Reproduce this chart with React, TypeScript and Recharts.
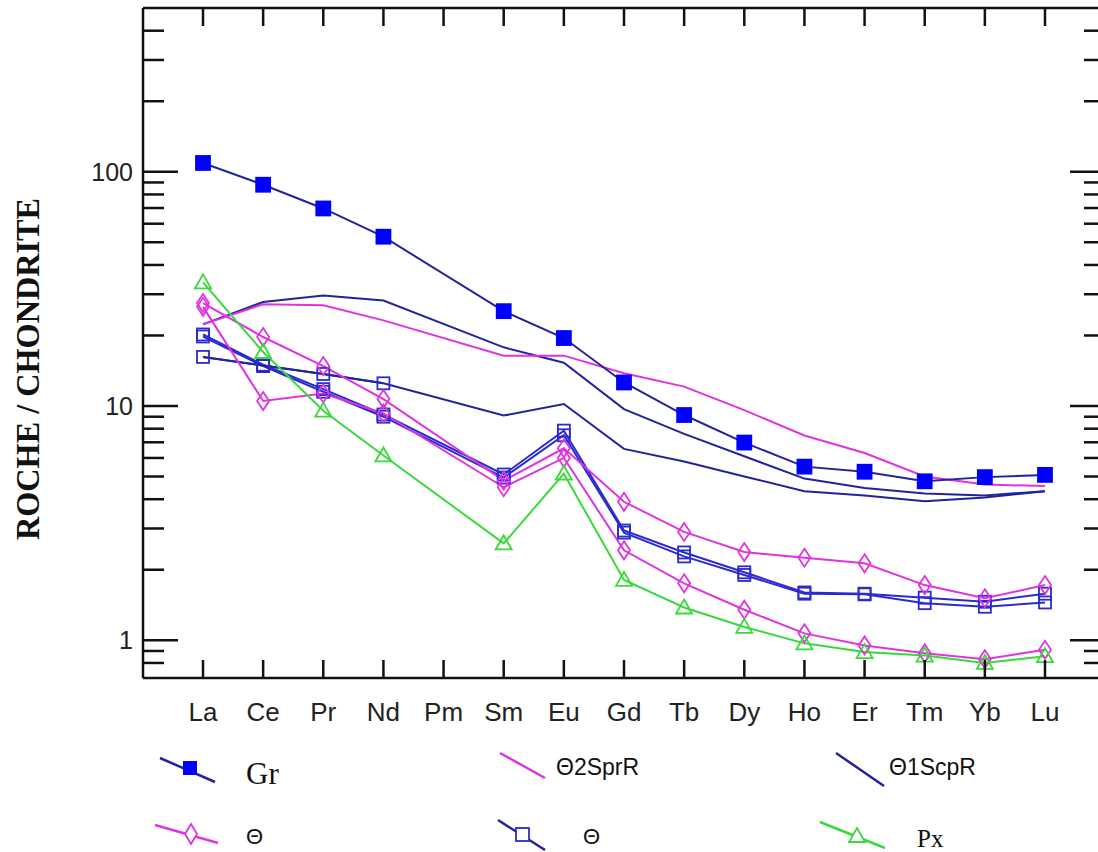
import { LineChart, Line, XAxis, YAxis } from "recharts";

// REE spider diagram, chondrite-normalised (log scale)
const REE = ["La", "Ce", "Pr", "Nd", "Pm", "Sm", "Eu", "Gd", "Tb", "Dy", "Ho", "Er", "Tm", "Yb", "Lu"];

const gr = [109, 88, 69.7, 52.8, null, 25.4, 19.5, 12.6, 9.15, 6.98, 5.51, 5.24, 4.77, 4.97, 5.08];
const sprR = [22.3, 27.2, 26.9, 23.2, null, 16.4, 16.4, 13.8, 12.1, 9.6, 7.48, 6.3, 5.0, 4.62, 4.55];
const scpR1 = [22.3, 27.8, 29.6, 28.2, null, 17.8, 15.3, 9.7, 7.6, 6.1, 4.9, 4.47, 4.23, 4.15, 4.33];
const scpR2 = [16.2, 14.9, 13.7, 12.5, null, 9.1, 10.2, 6.56, 5.8, 5.0, 4.33, 4.15, 3.92, 4.07, 4.33];
const sqLree = [16.2, 14.9, 13.7, 12.5, null, null, null, null, null, null, null, null, null, null, null];
const dia1 = [27.5, 19.7, 14.8, 10.7, null, 4.8, 6.6, 3.9, 2.9, 2.38, 2.25, 2.13, 1.72, 1.51, 1.72];
const dia2 = [26.5, 10.5, 11.3, 9.3, null, 4.5, 6.0, 2.42, 1.75, 1.35, 1.07, 0.95, 0.88, 0.83, 0.91];
const sq1 = [20.2, 15.0, 11.8, 9.2, null, 5.1, 7.85, 2.94, 2.37, 1.95, 1.6, 1.58, 1.52, 1.46, 1.58];
const sq2 = [19.8, 14.8, 11.5, 9.0, null, 4.95, 7.5, 2.88, 2.28, 1.9, 1.58, 1.57, 1.44, 1.39, 1.45];
const px = [33.7, 17.0, 9.55, 6.15, null, 2.59, 5.14, 1.81, 1.38, 1.14, 0.97, 0.89, 0.86, 0.8, 0.855];

const Y_TICKS = [0.8, 0.9, 1, 2, 3, 4, 5, 6, 7, 8, 9, 10, 20, 30, 40, 50, 60, 70, 80, 90, 100, 200, 300, 400];
const Y_MAJOR = [1, 10, 100];

const data = REE.map((ree, i) => ({
  ree,
  gr: gr[i], sprR: sprR[i], scpR1: scpR1[i], scpR2: scpR2[i], sqLree: sqLree[i],
  dia1: dia1[i], dia2: dia2[i], sq1: sq1[i], sq2: sq2[i], px: px[i],
}));

const NAVY = "#23239a";
const BLUE = "#0000ff";
const SQ_BLUE = "#2b2bcf";
const MAGENTA = "#e033e0";
const GREEN = "#3ad83a";
const AXIS = "#111";
const SANS = "Liberation Sans, Arial, sans-serif";
const SERIF = "Liberation Serif, Times New Roman, serif";

const empty = (i: number) => <g key={`e${i}`} />;

const squareDot = (fill: string, stroke: string, size: number) => (p: any) => {
  const { cx, cy, index } = p;
  if (cx == null || cy == null || isNaN(cy)) return empty(index);
  return <rect key={`s${index}`} x={cx - size / 2} y={cy - size / 2} width={size} height={size} fill={fill} stroke={stroke} strokeWidth={1.8} />;
};

const diamondDot = (p: any) => {
  const { cx, cy, index } = p;
  if (cx == null || cy == null || isNaN(cy)) return empty(index);
  return <path key={`d${index}`} d={`M${cx},${cy - 9} L${cx + 6},${cy} L${cx},${cy + 9} L${cx - 6},${cy} Z`} fill="#fff" fillOpacity={0} stroke={MAGENTA} strokeWidth={1.8} />;
};

const triangleDot = (p: any) => {
  const { cx, cy, index } = p;
  if (cx == null || cy == null || isNaN(cy)) return empty(index);
  return <path key={`t${index}`} d={`M${cx},${cy - 8} L${cx + 8},${cy + 6} L${cx - 8},${cy + 6} Z`} fill="none" stroke={GREEN} strokeWidth={1.8} />;
};

function LeftTick(props: any) {
  const { x, y, payload } = props;
  const major = Y_MAJOR.includes(payload.value);
  return (
    <g>
      <line x1={x} x2={x + (major ? 35 : 21)} y1={y} y2={y} stroke={AXIS} strokeWidth={2.5} />
      {major && (
        <text x={x - 10} y={y} textAnchor="end" dominantBaseline="central" fontFamily={SANS} fontSize={25} fill="#222">
          {payload.value}
        </text>
      )}
    </g>
  );
}

function RightTick(props: any) {
  const { x, y, payload } = props;
  const major = Y_MAJOR.includes(payload.value);
  return <line x1={x} x2={x - (major ? 35 : 21)} y1={y} y2={y} stroke={AXIS} strokeWidth={2.5} />;
}

function BottomTick(props: any) {
  const { x, y, payload } = props;
  return (
    <g>
      <line x1={x} x2={x} y1={y} y2={y - 18} stroke={AXIS} strokeWidth={2.5} />
      <text x={x} y={y + 34} textAnchor="middle" dominantBaseline="central" fontFamily={SANS} fontSize={26} fill="#222">
        {payload.value}
      </text>
    </g>
  );
}

function TopTick(props: any) {
  const { x, y } = props;
  return <line x1={x} x2={x} y1={y} y2={y + 18} stroke={AXIS} strokeWidth={2.5} />;
}

function Overlay() {
  return (
    <svg width={1098} height={852} style={{ position: "absolute", left: 0, top: 0, pointerEvents: "none" }}>
      <text
        transform="translate(39,369) rotate(-90)"
        textAnchor="middle"
        fontFamily={SERIF}
        fontWeight="bold"
        fontSize={33}
        textLength={342}
        lengthAdjust="spacingAndGlyphs"
        fill="#111"
      >
        ROCHE / CHONDRITE
      </text>

      {/* row 1 */}
      <line x1={160} y1={758} x2={215} y2={782} stroke={NAVY} strokeWidth={2.5} />
      <rect x={183} y={761} width={14} height={14} fill={BLUE} />
      <text x={246} y={784} fontFamily={SERIF} fontSize={31} fill="#111">Gr</text>

      <line x1={500} y1={753} x2={545} y2={778} stroke={MAGENTA} strokeWidth={2.5} />
      <text x={556} y={767} dominantBaseline="central" fontFamily={SANS} fontSize={23} fill="#111">Θ2SprR</text>

      <line x1={836} y1={753} x2={884} y2={786} stroke={NAVY} strokeWidth={2.5} />
      <text x={889} y={767} dominantBaseline="central" fontFamily={SANS} fontSize={23} fill="#111">Θ1ScpR</text>

      {/* row 2 */}
      <line x1={155} y1={825} x2={218} y2={843} stroke={MAGENTA} strokeWidth={2.5} />
      <path d="M191,824 L197,834 L191,844 L185,834 Z" fill="#fff" stroke={MAGENTA} strokeWidth={1.8} />
      <text x={246} y={836} dominantBaseline="central" fontFamily={SANS} fontSize={22} fill="#111">Θ</text>

      <line x1={498} y1={820} x2={545} y2={850} stroke={NAVY} strokeWidth={2.5} />
      <rect x={516} y={828} width={13} height={13} fill="#fff" stroke={SQ_BLUE} strokeWidth={1.8} />
      <text x={583} y={836} dominantBaseline="central" fontFamily={SANS} fontSize={22} fill="#111">Θ</text>

      <line x1={820} y1={822} x2={885} y2={848} stroke={GREEN} strokeWidth={2.5} />
      <path d="M857,828 L865,842 L849,842 Z" fill="#fff" stroke={GREEN} strokeWidth={1.8} />
      <text x={917} y={838} dominantBaseline="central" fontFamily={SERIF} fontSize={25} fill="#111">Px</text>
    </svg>
  );
}

export default function App() {
  const lineProps = { type: "linear" as const, connectNulls: true, isAnimationActive: false, strokeWidth: 2 };
  return (
    <div style={{ position: "fixed", left: 0, top: 0, width: 1098, height: 852, overflow: "hidden", background: "#fff" }}>
      <LineChart width={1106} height={852} data={data} margin={{ top: 7, right: 0, bottom: 134, left: 0 }}>
        <XAxis
          dataKey="ree" scale="point" padding={{ left: 60, right: 60 }} height={40}
          tickSize={0} tickMargin={0} tickLine={false} interval={0}
          axisLine={{ stroke: AXIS, strokeWidth: 2.5 }} tick={<BottomTick />}
        />
        <XAxis
          xAxisId="top" orientation="top" dataKey="ree" scale="point" padding={{ left: 60, right: 60 }} height={1}
          tickSize={0} tickMargin={0} tickLine={false} interval={0}
          axisLine={{ stroke: AXIS, strokeWidth: 2.5 }} tick={<TopTick />}
        />
        <YAxis
          scale="log" type="number" domain={[0.69, 500]} allowDataOverflow ticks={Y_TICKS} interval={0}
          width={143} tickSize={0} tickMargin={0} tickLine={false}
          axisLine={{ stroke: AXIS, strokeWidth: 2.5 }} tick={<LeftTick />}
        />
        <YAxis
          yAxisId="right" orientation="right" scale="log" type="number" domain={[0.69, 500]} allowDataOverflow
          ticks={Y_TICKS} interval={0} width={1} tickSize={0} tickMargin={0} tickLine={false}
          axisLine={{ stroke: AXIS, strokeWidth: 2.5 }} tick={<RightTick />}
        />

        <Line {...lineProps} dataKey="sq2" stroke={SQ_BLUE} dot={squareDot("none", SQ_BLUE, 12)} />
        <Line {...lineProps} dataKey="sq1" stroke={SQ_BLUE} dot={squareDot("none", SQ_BLUE, 12)} />
        <Line {...lineProps} dataKey="scpR2" stroke={NAVY} dot={false} />
        <Line {...lineProps} dataKey="sqLree" stroke={NAVY} dot={squareDot("none", SQ_BLUE, 12)} />
        <Line {...lineProps} dataKey="scpR1" stroke={NAVY} dot={false} />
        <Line {...lineProps} dataKey="sprR" stroke={MAGENTA} dot={false} />
        <Line {...lineProps} dataKey="dia2" stroke={MAGENTA} dot={diamondDot} />
        <Line {...lineProps} dataKey="dia1" stroke={MAGENTA} dot={diamondDot} />
        <Line {...lineProps} dataKey="px" stroke={GREEN} dot={triangleDot} />
        <Line {...lineProps} dataKey="gr" stroke={NAVY} dot={squareDot(BLUE, BLUE, 14)} />
      </LineChart>
      <Overlay />
    </div>
  );
}
